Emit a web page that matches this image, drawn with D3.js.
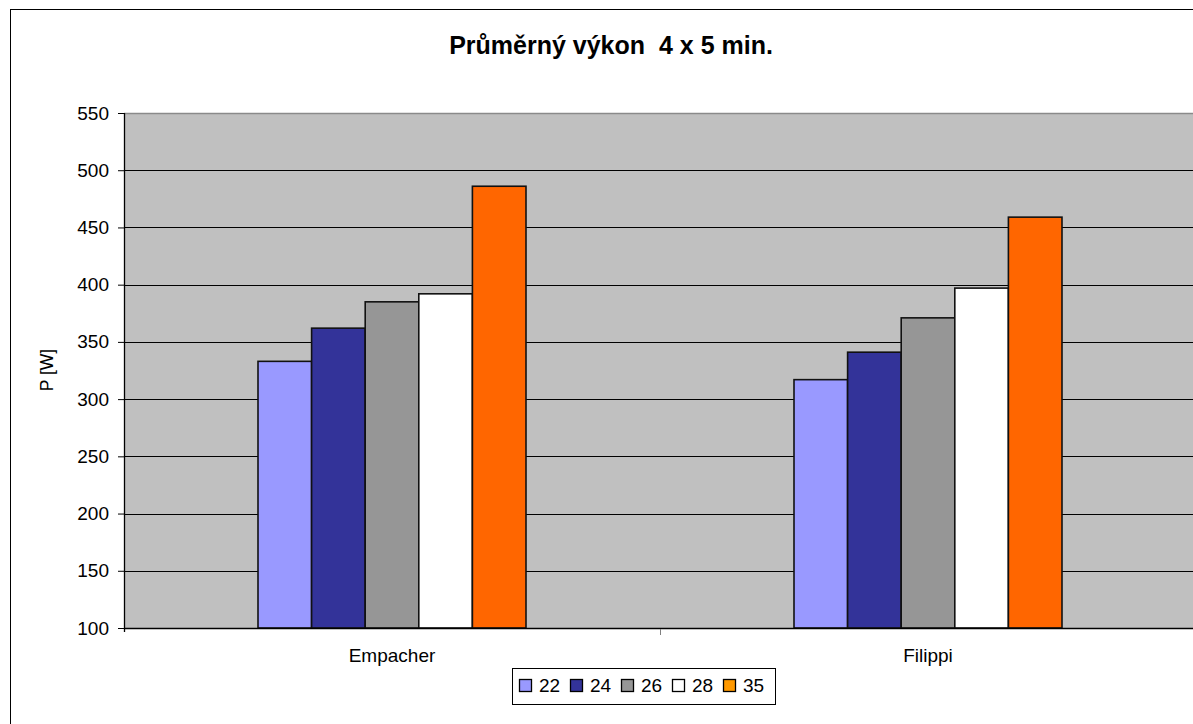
<!DOCTYPE html>
<html><head><meta charset="utf-8">
<script src="https://cdn.jsdelivr.net/npm/d3@7"></script>
<style>body{margin:0;background:#fff}svg{display:block;font-family:"Liberation Sans",Arial,sans-serif}</style>
</head><body><svg id="c" width="1193" height="724"></svg>
<script>
const categories = ["Empacher", "Filippi"];
const seriesNames = ["22", "24", "26", "28", "35"];
const values22 = [333, 317];
const values24 = [362, 341];
const values26 = [385, 371];
const values28 = [392, 397];
const values35 = [486, 459];
const yTicks = [100, 150, 200, 250, 300, 350, 400, 450, 500, 550];
const barColors = ["#9999FF", "#333399", "#969696", "#FFFFFF", "#FF6600"];
const legendColors = ["#9999FF", "#333399", "#969696", "#FFFFFF", "#FF9900"];
const title = "Průměrný výkon  4 x 5 min.";
const yLabel = "P [W]";

const allValues = [values22, values24, values26, values28, values35];
const svg = d3.select("#c");

// outer frame
svg.append("rect").attr("x", 10.5).attr("y", 9.5).attr("width", 1200).attr("height", 730)
  .attr("fill", "#fff").attr("stroke", "#000").attr("stroke-width", 1);

const L = 124, R = 1196, T = 113, B = 628;
const x0 = d3.scaleBand().domain(categories).range([L, R]).padding(0);
const x1 = d3.scaleBand().domain(seriesNames).range([x0.bandwidth() * 0.25, x0.bandwidth() * 0.75]).padding(0);
const y = d3.scaleLinear().domain([100, 550]).range([B, T]);

// plot background
svg.append("rect").attr("x", L).attr("y", T).attr("width", R - L).attr("height", B - T).attr("fill", "#C0C0C0");
svg.append("line").attr("x1", L).attr("x2", R).attr("y1", T + 0.5).attr("y2", T + 0.5).attr("stroke", "#8a8a8a").attr("stroke-width", 1.5);

// gridlines
svg.append("g").selectAll("line").data(yTicks.filter(d => d > 100 && d < 550)).join("line")
  .attr("x1", L).attr("x2", R).attr("y1", d => Math.round(y(d)) + 0.5).attr("y2", d => Math.round(y(d)) + 0.5)
  .attr("stroke", "#000").attr("stroke-width", 1);

// bars
const groups = svg.append("g").selectAll("g").data(categories).join("g")
  .attr("transform", d => `translate(${x0(d)},0)`);
groups.selectAll("rect").data((c, ci) => seriesNames.map((s, si) => ({ s, si, v: allValues[si][ci] }))).join("rect")
  .attr("x", d => x1(d.s)).attr("width", x1.bandwidth())
  .attr("y", d => y(d.v)).attr("height", d => y(100) - y(d.v))
  .attr("fill", d => barColors[d.si]).attr("stroke", "#111").attr("stroke-width", 1.6);

// y axis
const yAxis = d3.axisLeft(y).tickValues(yTicks).tickSize(6).tickPadding(9).tickFormat(d3.format("d"));
const ga = svg.append("g").attr("transform", `translate(${L},0)`).call(yAxis);
ga.select(".domain").attr("d", `M0.5,${T}V${B + 4}`).attr("stroke", "#000").attr("stroke-width", 1.3);
ga.selectAll(".tick line").attr("stroke", "#000");
ga.selectAll(".tick text").attr("font-size", 19).attr("fill", "#000").attr("font-family", "Liberation Sans, Arial, sans-serif");

// x axis
const gx = svg.append("g").attr("transform", `translate(0,${B})`);
gx.append("line").attr("x1", L).attr("x2", R).attr("y1", 0.5).attr("y2", 0.5).attr("stroke", "#000").attr("stroke-width", 1.3);
gx.selectAll(".sep").data(categories.slice(1)).join("line").attr("class", "sep")
  .attr("x1", d => Math.round(x0(d)) + 0.5).attr("x2", d => Math.round(x0(d)) + 0.5)
  .attr("y1", 1).attr("y2", 7).attr("stroke", "#808080").attr("stroke-width", 1);
gx.selectAll("text").data(categories).join("text")
  .attr("x", d => x0(d) + x0.bandwidth() / 2).attr("y", 34)
  .attr("text-anchor", "middle").attr("font-size", 19).attr("fill", "#000").text(d => d);

// title
svg.append("text").attr("x", 611).attr("y", 54).attr("text-anchor", "middle")
  .attr("font-size", 25).attr("font-weight", "bold").attr("fill", "#000")
  .attr("xml:space", "preserve").style("white-space", "pre").text(title);

// y label
svg.append("text").attr("transform", "translate(53,370) rotate(-90)").attr("text-anchor", "middle")
  .attr("font-size", 17.5).attr("fill", "#000").text(yLabel);

// legend
const lg = svg.append("g");
lg.append("rect").attr("x", 512.5).attr("y", 668.5).attr("width", 263).attr("height", 36)
  .attr("fill", "#fff").attr("stroke", "#000").attr("stroke-width", 1);
const itemX = [519, 570, 621, 672, 723];
const items = lg.selectAll("g").data(seriesNames).join("g")
  .attr("transform", (d, i) => `translate(${itemX[i]},0)`);
items.append("rect").attr("x", 0.5).attr("y", 679.5).attr("width", 12).attr("height", 12)
  .attr("fill", (d, i) => legendColors[i]).attr("stroke", "#000").attr("stroke-width", 1.3);
items.append("text").attr("x", 20).attr("y", 692).attr("font-size", 19).attr("fill", "#000").text(d => d);
</script></body></html>
